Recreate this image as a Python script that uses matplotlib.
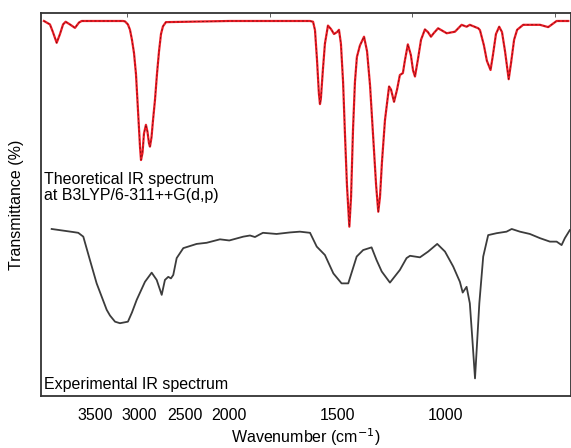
import matplotlib.pyplot as plt
import numpy as np

plt.rcParams['font.family'] = ['Liberation Sans', 'DejaVu Sans']

# theoretical spectrum (B3LYP), wavenumber (cm-1) and transmittance (arb.)
theo_wn = [4068, 4001, 3968, 3926, 3889, 3855, 3826, 3778, 3722, 3677, 3647,
           3186, 3164, 3131, 3108, 3086, 3063, 3041, 3019, 2996, 2985, 2968, 2952,
           2930, 2913, 2896, 2885, 2868, 2851, 2829, 2807, 2784, 2762, 2740, 2707,
           2000, 1626, 1612, 1603, 1594, 1585, 1580, 1576, 1566, 1557, 1543, 1529,
           1515, 1501, 1492, 1483, 1473, 1464, 1455, 1444, 1436, 1427, 1418, 1409,
           1395, 1376, 1362, 1348, 1334, 1320, 1310, 1302, 1293, 1279, 1260, 1251,
           1237, 1223, 1210, 1196, 1187, 1173, 1159, 1149, 1140, 1126, 1112, 1094,
           1080, 1066, 1052, 1033, 993, 955, 924, 901, 886, 847, 839, 821, 807,
           790, 779, 765, 750, 737, 723, 706, 695, 681, 667, 639, 561, 523, 484, 430]
theo_t = [97.9, 97.0, 95.0, 92.2, 94.5, 97.0, 97.7, 97.0, 96.1, 97.5, 97.9,
          97.9, 97.8, 97.0, 95.6, 93.0, 89.5, 84.0, 74.7, 65.0, 61.6, 63.5, 68.5,
          70.8, 69.0, 66.0, 65.1, 67.5, 72.0, 77.3, 84.0, 90.0, 94.5, 96.5, 97.6,
          97.9, 97.9, 97.7, 95.5, 88.0, 79.0, 76.2, 77.5, 85.5, 92.0, 96.7, 95.8,
          94.5, 95.0, 95.6, 92.0, 82.0, 68.0, 55.0, 44.2, 52.0, 69.5, 82.0, 88.5,
          91.5, 93.8, 90.0, 81.0, 68.0, 55.0, 48.1, 52.0, 61.0, 72.0, 80.8, 80.0,
          76.8, 80.0, 83.8, 84.3, 87.5, 91.8, 89.0, 85.0, 83.4, 88.0, 93.0, 95.7,
          95.0, 93.8, 94.8, 96.0, 94.7, 95.1, 96.9, 96.4, 96.9, 96.0, 95.5, 91.6, 87.5,
          85.1, 89.0, 94.5, 96.4, 95.0, 90.0, 82.7, 87.0, 93.0, 95.6, 96.9, 96.9,
          96.3, 97.9, 97.9]

# experimental spectrum
exp_wn = [3982, 3741, 3685, 3629, 3555, 3480, 3368, 3331, 3275, 3220, 3175, 3131,
          3086, 3033, 2941, 2866, 2810, 2754, 2718, 2681, 2651, 2625, 2587, 2513,
          2364, 2252, 2104, 2000, 1935, 1904, 1881, 1858, 1844, 1781, 1719, 1673,
          1626, 1595, 1557, 1518, 1480, 1449, 1410, 1380, 1341, 1318, 1294, 1256,
          1210, 1179, 1163, 1117, 1079, 1037, 1001, 963, 932, 919, 901, 886, 874,
          862, 853, 842, 824, 801, 762, 716, 692, 654, 608, 561, 515, 484, 461,
          446, 423]
exp_t = [43.6, 42.8, 42.6, 41.6, 35.5, 29.4, 22.5, 21.0, 19.4, 19.0, 19.2, 19.4,
         21.8, 25.1, 29.8, 32.2, 30.3, 26.4, 30.3, 31.1, 30.7, 31.6, 36.0, 38.6,
         39.7, 40.0, 40.9, 40.6, 41.6, 41.9, 41.5, 42.2, 42.6, 42.3, 42.7, 42.9,
         42.6, 39.0, 36.8, 32.0, 29.4, 29.4, 36.4, 38.1, 38.8, 35.5, 32.5, 29.6,
         32.9, 36.0, 36.6, 36.2, 37.7, 39.7, 37.7, 33.8, 29.8, 27.0, 28.5, 24.2,
         14.6, 4.6, 13.3, 24.2, 36.4, 42.0, 42.5, 42.9, 43.6, 42.9, 42.3, 41.2,
         40.3, 40.3, 39.4, 41.2, 43.3]

tick_wn = [3500, 3000, 2500, 2000, 1500, 1000]

# compressed scale above 2000 cm-1
r = 0.415
def fwd(w):
    w = np.asarray(w, dtype=float)
    return np.where(w > 2000, 2000 + (w - 2000) * r, w)

def inv(u):
    u = np.asarray(u, dtype=float)
    return np.where(u > 2000, 2000 + (u - 2000) / r, u)

fig = plt.figure(figsize=(5.71, 4.48), dpi=100)
ax = fig.add_axes([0.0718, 0.1161, 0.928, 0.855])
ax.set_xscale('function', functions=(fwd, inv))

ax.plot(theo_wn, theo_t, color='#ee1c25', lw=1.6)
ax.plot(theo_wn, theo_t, color='black', lw=0.5, ls=(0, (3, 3)), alpha=0.55)
ax.plot(exp_wn, exp_t, color='#3c3c3c', lw=1.3)

ax.set_xlim(4101, 418)
ax.set_ylim(0, 100)

ax.set_xticks(tick_wn)
ax.set_xticklabels([str(t) for t in tick_wn])
ax.xaxis.set_minor_locator(plt.FixedLocator([3142, 1812, 1154, 492]))
ax.tick_params(axis='x', which='major', length=0, pad=9, labelsize=11.5)
ax.tick_params(axis='x', which='minor', bottom=False, top=True, direction='in',
               length=3, color='#444')
ax.set_yticks([])

for s in ax.spines.values():
    s.set_color('#333333')
    s.set_linewidth(1.3)

ax.set_xlabel('Wavenumber (cm$^{-1}$)', fontsize=11.5, labelpad=2)
ax.set_ylabel('Transmittance (%)', fontsize=11.5, labelpad=12)

ax.text(0.006, 0.585, 'Theoretical IR spectrum\nat B3LYP/6-311++G(d,p)',
        transform=ax.transAxes, fontsize=11.5, va='top', ha='left', linespacing=1.1)
ax.text(0.006, 0.01, 'Experimental IR spectrum', transform=ax.transAxes,
        fontsize=11.5, va='bottom', ha='left')

fig.savefig('out.png', dpi=100)
